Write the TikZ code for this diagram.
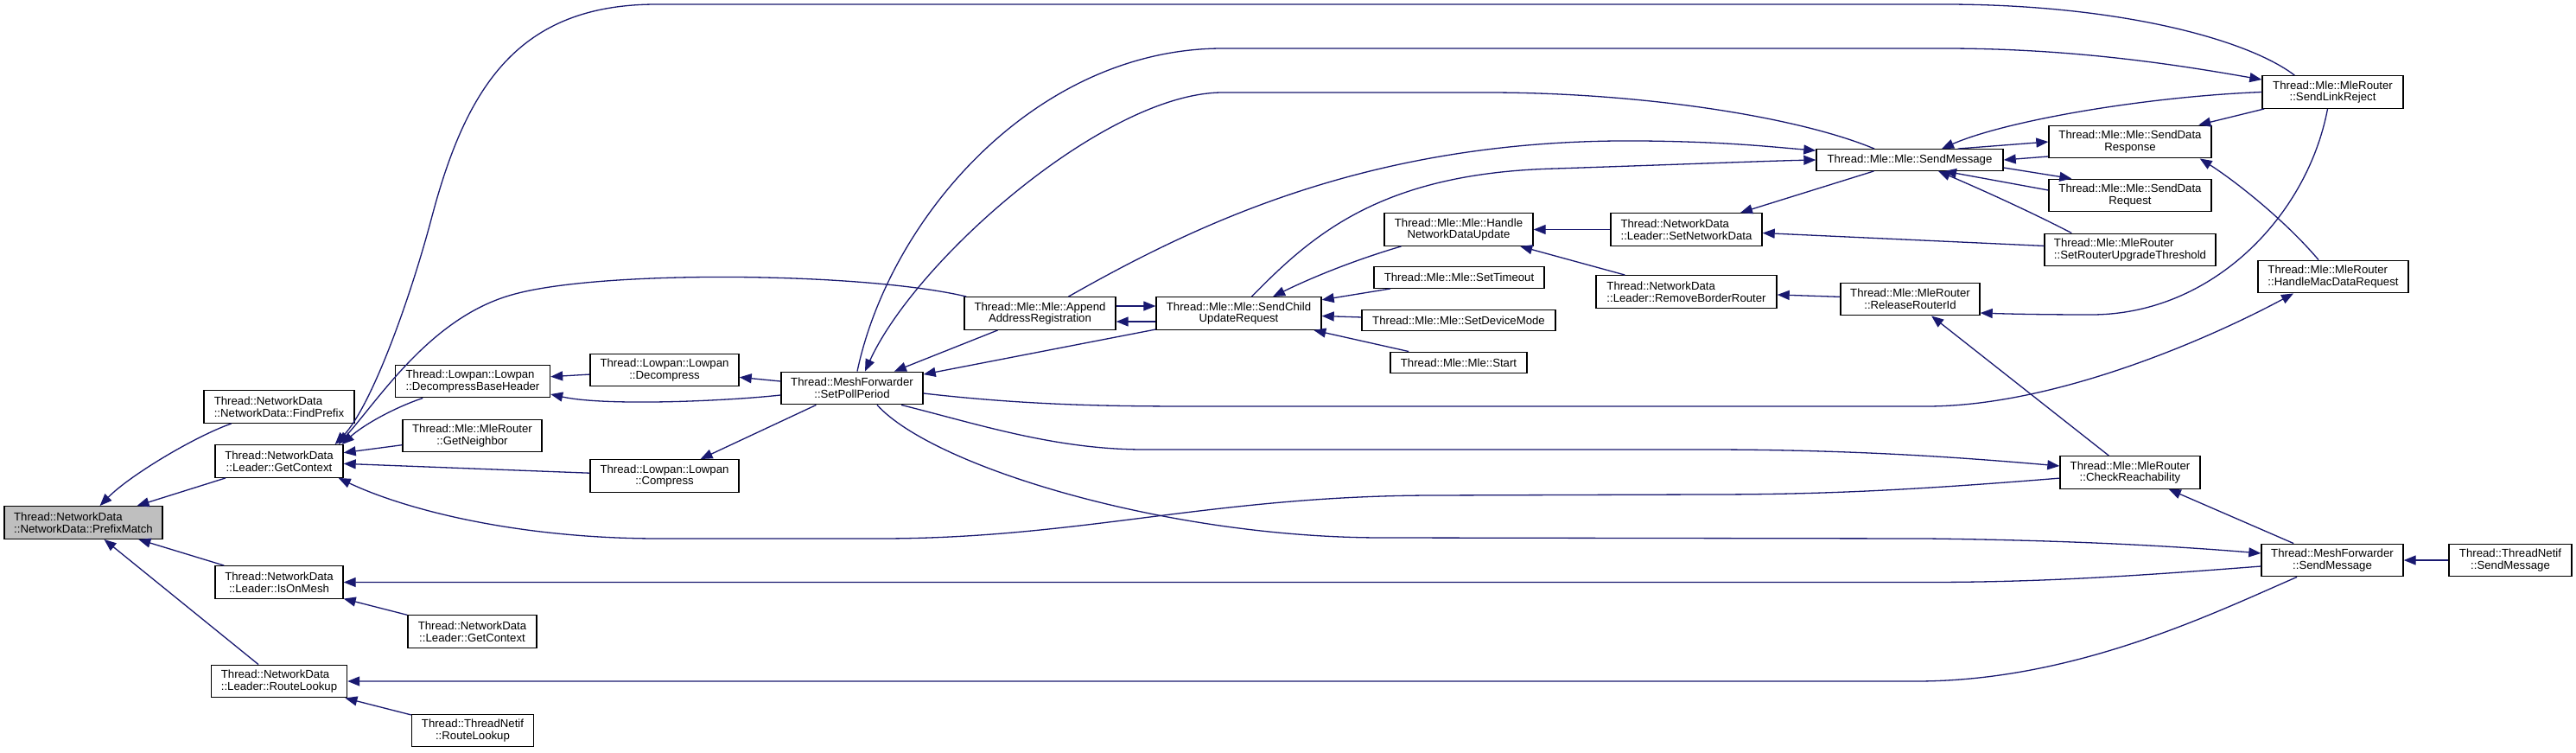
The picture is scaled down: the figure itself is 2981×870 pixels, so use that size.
\documentclass[tikz,border=0pt]{standalone}
\usepackage{fontspec}
\setmainfont{Liberation Sans}
\usetikzlibrary{arrows.meta,calc}
\definecolor{edgeblue}{RGB}{25,25,112}
\definecolor{focusgray}{RGB}{191,191,191}
\begin{document}
\begin{tikzpicture}[x=1pt,y=-1pt,
  dbox/.style={draw=black, line width=1.4pt, fill=white, inner sep=0pt, align=center,
    font=\fontsize{13.2}{13.8}\selectfont, minimum height=37.5pt},
  dboxl/.style={dbox, align=left},
  oneline/.style={minimum height=24.5pt},
  conn/.style={draw=edgeblue, line width=1.3pt, -{Triangle[length=14pt,width=11pt]}},
]
\useasboundingbox (0,0) rectangle (2981,870);
\fill[white] (0,0) rectangle (2981,870);

% nodes
\node[dboxl, fill=focusgray, minimum width=183pt] (pm) at (96.5,604.5) {Thread::NetworkData\\::NetworkData::PrefixMatch};
\node[dboxl, minimum width=174pt] (fp) at (323,470.5) {Thread::NetworkData\\::NetworkData::FindPrefix};
\node[dbox, minimum width=148pt] (gc) at (323,533.5) {Thread::NetworkData\\::Leader::GetContext};
\node[dbox, minimum width=148pt] (iom) at (323,673.5) {Thread::NetworkData\\::Leader::IsOnMesh};
\node[dboxl, minimum width=157pt] (rl) at (323,788) {Thread::NetworkData\\::Leader::RouteLookup};
\node[dboxl, minimum width=179pt] (dbh) at (547,441) {Thread::Lowpan::Lowpan\\::DecompressBaseHeader};
\node[dbox, minimum width=161pt] (gn) at (546.5,504) {Thread::Mle::MleRouter\\::GetNeighbor};
\node[dbox, minimum width=149pt] (gc2) at (546.5,730.5) {Thread::NetworkData\\::Leader::GetContext};
\node[dbox, minimum width=141pt] (tnrl) at (547,845) {Thread::ThreadNetif\\::RouteLookup};
\node[dbox, minimum width=172pt] (dec) at (769,428) {Thread::Lowpan::Lowpan\\::Decompress};
\node[dbox, minimum width=172pt] (cmp) at (769,550.5) {Thread::Lowpan::Lowpan\\::Compress};
\node[dbox, minimum width=164pt] (spp) at (986,449) {Thread::MeshForwarder\\::SetPollPeriod};
\node[dbox, minimum width=175pt] (aar) at (1203.5,362.5) {Thread::Mle::Mle::Append\\AddressRegistration};
\node[dbox, minimum width=191pt] (scur) at (1433.5,362.5) {Thread::Mle::Mle::SendChild\\UpdateRequest};
\node[dbox, minimum width=172pt] (hndu) at (1688,265.5) {Thread::Mle::Mle::Handle\\NetworkDataUpdate};
\node[dbox, oneline, minimum width=197pt] (sto) at (1688.5,321) {Thread::Mle::Mle::SetTimeout};
\node[dbox, oneline, minimum width=224pt] (sdm) at (1688,370.5) {Thread::Mle::Mle::SetDeviceMode};
\node[dbox, oneline, minimum width=158pt] (st) at (1688,419.5) {Thread::Mle::Mle::Start};
\node[dboxl, minimum width=175pt] (snd) at (1951.5,265.5) {Thread::NetworkData\\::Leader::SetNetworkData};
\node[dboxl, minimum width=209pt] (rbr) at (1951.5,337.5) {Thread::NetworkData\\::Leader::RemoveBorderRouter};
\node[dbox, minimum width=161pt] (rri) at (2210.5,346) {Thread::Mle::MleRouter\\::ReleaseRouterId};
\node[dbox, oneline, minimum width=216pt] (sm) at (2210,185) {Thread::Mle::Mle::SendMessage};
\node[dbox, minimum width=188pt] (sdrsp) at (2465,164) {Thread::Mle::Mle::SendData\\Response};
\node[dbox, minimum width=188pt] (sdrq) at (2465,226) {Thread::Mle::Mle::SendData\\Request};
\node[dboxl, minimum width=198pt] (srut) at (2465,289) {Thread::Mle::MleRouter\\::SetRouterUpgradeThreshold};
\node[dbox, minimum width=163pt] (slr) at (2699.5,106.5) {Thread::Mle::MleRouter\\::SendLinkReject};
\node[dboxl, minimum width=174pt] (hmdr) at (2700,320) {Thread::Mle::MleRouter\\::HandleMacDataRequest};
\node[dbox, minimum width=162pt] (cr) at (2465,546.5) {Thread::Mle::MleRouter\\::CheckReachability};
\node[dbox, minimum width=164pt] (mfsm) at (2699,648) {Thread::MeshForwarder\\::SendMessage};
\node[dbox, minimum width=142pt] (tnsm) at (2905,648) {Thread::ThreadNetif\\::SendMessage};

% connectors (arrowhead at the callee)
\draw[conn] (fp) .. controls (225,505) and (150,550) .. (pm);
\draw[conn] (gc) -- (pm);
\draw[conn] (iom) -- (pm);
\draw[conn] (rl) -- (pm);
\draw[conn] (dbh) .. controls (455,472) and (420,492) .. ($(gc.north east)+(-2,0)$);
\draw[conn] (gn) -- (gc);
\draw[conn] (cmp) -- (gc);
\draw[conn] (cr) .. controls (2200,568) and (2100,572) .. (1974,572) -- (1655,573)
   .. controls (1400,574) and (1250,623) .. (1018,623) -- (763,623)
   .. controls (600,623) and (470,590) .. ($(gc.south east)+(-6,0)$);
\draw[conn] ($(aar.north west)+(3,0)$) .. controls (1000,315) and (700,312) .. (596,340)
   .. controls (500,365) and (440,460) .. ($(gc.north east)+(-6,0)$);
\draw[conn] ($(slr.north west)+(38,0)$) .. controls (2600,45) and (2450,5) .. (2250,5) -- (760,5)
   .. controls (600,5) and (540,100) .. (500,250)
   .. controls (475,345) and (430,470) .. ($(gc.north east)+(-10,0)$);
\draw[conn] (dec) -- (dbh);
\draw[conn] ($(spp.west)+(0,8)$) .. controls (840,464) and (700,470) .. ($(dbh.east)+(0,15)$);
\draw[conn] (spp) -- (dec);
\draw[conn] (spp) -- (cmp);
\draw[conn] (aar) -- (spp);
\draw[conn] (scur) -- (spp);
\draw[conn] ($(aar.east)+(0,-8.5)$) -- ($(scur.west)+(0,-8.5)$);
\draw[conn] ($(scur.west)+(0,9.5)$) -- ($(aar.east)+(0,9.5)$);
\draw[conn] ($(spp.north)+(6,0)$) .. controls (1030,250) and (1200,56) .. (1415,56) -- (2250,56)
   .. controls (2400,56) and (2520,75) .. (slr);
\draw[conn] ($(sm.north)+(-41,0)$) .. controls (2080,135) and (1900,107) .. (1721,107) -- (1415,107)
   .. controls (1280,107) and (1060,300) .. ($(spp.north)+(15,0)$);
\draw[conn] ($(aar.north)+(33,0)$) .. controls (1400,250) and (1600,160) .. (1900,163)
   .. controls (2000,164) and (2050,170) .. ($(sm.north west)+(0,2)$);
\draw[conn] ($(scur.north)+(15,0)$) .. controls (1520,270) and (1600,200) .. (1800,195)
   .. controls (1950,190) and (2050,186) .. (sm.west);
\draw[conn] (hndu) .. controls (1570,300) and (1520,320) .. (scur);
\draw[conn] (sto) -- (scur);
\draw[conn] (sdm) -- (scur);
\draw[conn] (st) -- (scur);
\draw[conn] (snd) -- (hndu);
\draw[conn] (rbr) -- (hndu);
\draw[conn] (sm) -- (snd);
\draw[conn] (srut) -- (snd);
\draw[conn] (rri) -- (rbr);
\draw[conn] ($(sm.north east)+(-53,0)$) -- (sdrsp.west);
\draw[conn] ($(sdrsp.west)+(0,17)$) -- (sm.east);
\draw[conn] ($(sm.east)+(0,9)$) -- ($(sdrq.north west)+(27,0)$);
\draw[conn] ($(sdrq.west)+(0,-6)$) -- ($(sm.south)+(40,0)$);
\draw[conn] ($(srut.north west)+(32,0)$) .. controls (2350,245) and (2290,218) .. ($(sm.south)+(33,0)$);
\draw[conn] (slr.west) .. controls (2480,112) and (2320,140) .. ($(sm.north)+(37,0)$);
\draw[conn] (slr) -- (sdrsp);
\draw[conn] ($(hmdr.north)+(-17,0)$) .. controls (2640,250) and (2580,205) .. ($(sdrsp.south east)+(-14,0)$);
\draw[conn] ($(slr.south)+(-6,0)$) .. controls (2670,250) and (2560,364) .. (2420,364)
   .. controls (2360,364) and (2320,363) .. ($(rri.east)+(0,16)$);
\draw[conn] (cr) -- (rri);
\draw[conn] ($(spp.east)+(0,6)$) .. controls (1200,470) and (1300,470) .. (1400,470) -- (2229,470)
   .. controls (2380,470) and (2560,390) .. ($(hmdr.south)+(-46,0)$);
\draw[conn] ($(spp.south)+(57,0)$) .. controls (1130,490) and (1220,520) .. (1324,520) -- (1974,520)
   .. controls (2150,520) and (2280,530) .. ($(cr.west)+(0,-7.5)$);
\draw[conn] ($(spp.south)+(29,0)$) .. controls (1080,540) and (1350,622) .. (1600,622) -- (2229,623)
   .. controls (2400,625) and (2520,632) .. ($(mfsm.west)+(0,-8)$);
\draw[conn] (mfsm) -- (cr);
\draw[conn] ($(mfsm.west)+(0,7)$) .. controls (2450,668) and (2350,673.5) .. (2229,673.5) -- (iom.east);
\draw[conn] ($(mfsm.south)+(-41,0)$) .. controls (2560,710) and (2400,788) .. (2217,788) -- (rl.east);
\draw[conn] (tnsm) -- (mfsm);
\draw[conn] (gc2) -- (iom);
\draw[conn] (tnrl) -- (rl);
\end{tikzpicture}
\end{document}
